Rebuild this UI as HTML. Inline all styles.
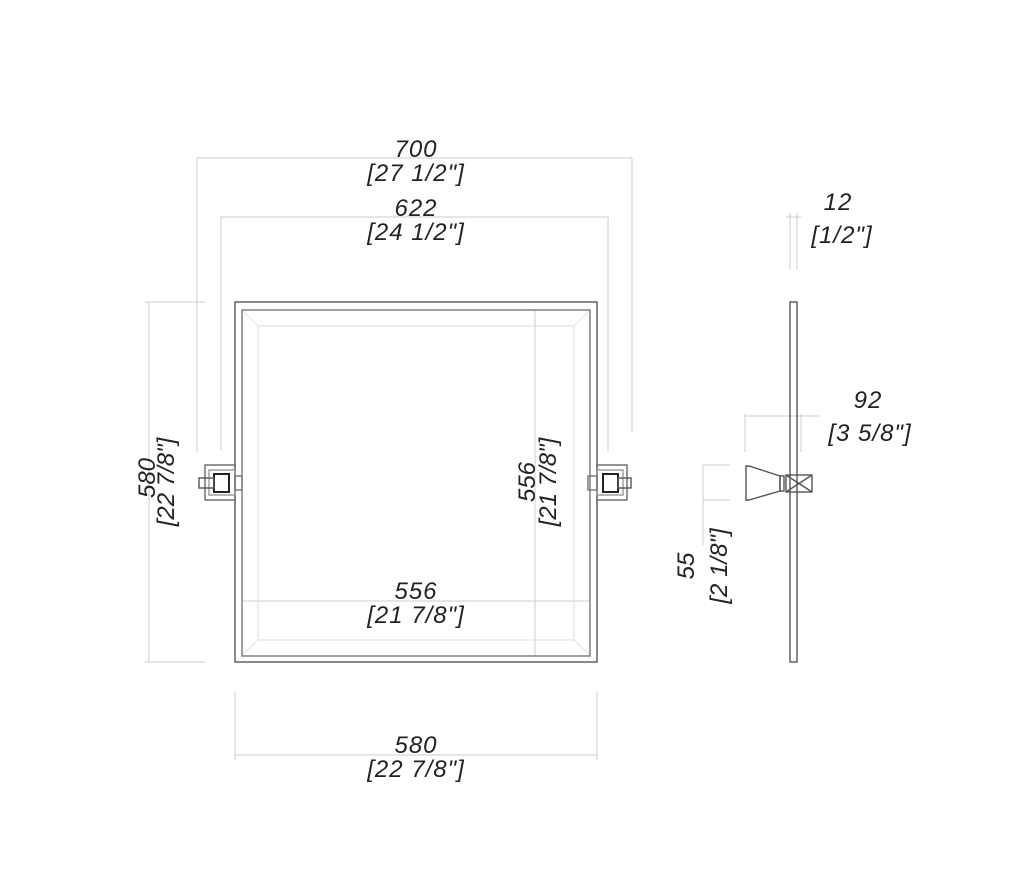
<!DOCTYPE html>
<html><head><style>
html,body{margin:0;padding:0;background:#fff;}
svg text{font-family:"Liberation Sans",sans-serif;font-style:italic;font-size:24px;letter-spacing:1px;fill:#222;text-anchor:middle;}
svg text.v{letter-spacing:0;}
</style></head><body>
<svg width="1024" height="876" viewBox="0 0 1024 876" xmlns="http://www.w3.org/2000/svg">
<g stroke="#ccc" stroke-width="1" fill="none">
<line x1="197" y1="158" x2="632" y2="158"/>
<line x1="197" y1="158" x2="197" y2="452"/>
<line x1="632" y1="158" x2="632" y2="432"/>
<line x1="220" y1="217" x2="609" y2="217"/>
<line x1="221" y1="217" x2="221" y2="450"/>
<line x1="608" y1="217" x2="608" y2="452"/>
<line x1="149" y1="302" x2="149" y2="662"/>
<line x1="145" y1="302" x2="205" y2="302"/>
<line x1="145" y1="662" x2="205" y2="662"/>
<line x1="535" y1="311" x2="535" y2="656"/>
<line x1="242" y1="601" x2="590" y2="601"/>
<line x1="235" y1="755" x2="597" y2="755"/>
<line x1="235" y1="692" x2="235" y2="760"/>
<line x1="597" y1="692" x2="597" y2="760"/>
<line x1="790" y1="213" x2="790" y2="270"/>
<line x1="797" y1="213" x2="797" y2="270"/>
<line x1="786" y1="217" x2="801" y2="217"/>
<line x1="745" y1="416" x2="820" y2="416"/>
<line x1="745" y1="414" x2="745" y2="452"/>
<line x1="801" y1="414" x2="801" y2="452"/>
<line x1="703" y1="465" x2="703" y2="545"/>
<line x1="703" y1="465" x2="730" y2="465"/>
<line x1="703" y1="500" x2="730" y2="500"/>
<rect x="258" y="326" width="316" height="314" stroke="#ddd"/>
<line x1="242" y1="310" x2="258" y2="326" stroke="#e4e4e4"/>
<line x1="590" y1="310" x2="574" y2="326" stroke="#e4e4e4"/>
<line x1="242" y1="655" x2="258" y2="640" stroke="#e4e4e4"/>
<line x1="590" y1="655" x2="574" y2="640" stroke="#e4e4e4"/>
</g>
<g stroke="#555" stroke-width="1.4" fill="none">
<rect x="235" y="302" width="362" height="360"/>
<rect x="242" y="310" width="348" height="346" stroke="#777"/>
<rect x="205" y="465" width="30" height="35" stroke="#666"/>
<rect x="209" y="470" width="26" height="25" stroke="#999"/>
<rect x="214" y="474" width="15" height="18" stroke="#222" stroke-width="2"/>
<rect x="199" y="478" width="15" height="10"/>
<rect x="235" y="476" width="7" height="14" stroke="#777"/>
<rect x="597" y="465" width="30" height="35" stroke="#666"/>
<rect x="597" y="470" width="26" height="25" stroke="#999"/>
<rect x="603" y="474" width="15" height="18" stroke="#222" stroke-width="2"/>
<rect x="618" y="478" width="13" height="10"/>
<rect x="588" y="476" width="9" height="14" stroke="#777"/>
<rect x="790" y="302" width="7" height="360"/>
<path d="M746 466 L749 466 L780 476 L780 491 L749 500 L746 500 Z"/>
<rect x="780" y="476" width="4" height="15"/>
<rect x="786" y="475" width="26" height="17"/>
<line x1="786" y1="475" x2="812" y2="492"/>
<line x1="812" y1="475" x2="786" y2="492"/>
</g>
<text x="416" y="157">700</text>
<text x="416" y="181">[27 1/2"]</text>
<text x="416" y="216">622</text>
<text x="416" y="240">[24 1/2"]</text>
<text x="416" y="599">556</text>
<text x="416" y="623">[21 7/8"]</text>
<text x="416" y="753">580</text>
<text x="416" y="777">[22 7/8"]</text>
<text x="838" y="210">12</text>
<text x="842" y="243">[1/2"]</text>
<text x="868" y="408">92</text>
<text x="870" y="441">[3 5/8"]</text>
<text class="v" transform="translate(155,478) rotate(-90)">580</text>
<text class="v" transform="translate(174,482) rotate(-90)">[22 7/8"]</text>
<text class="v" transform="translate(535,482) rotate(-90)">556</text>
<text class="v" transform="translate(556,482) rotate(-90)">[21 7/8"]</text>
<text class="v" transform="translate(694,566) rotate(-90)">55</text>
<text class="v" transform="translate(727,566) rotate(-90)">[2 1/8"]</text>
</svg>
</body></html>
